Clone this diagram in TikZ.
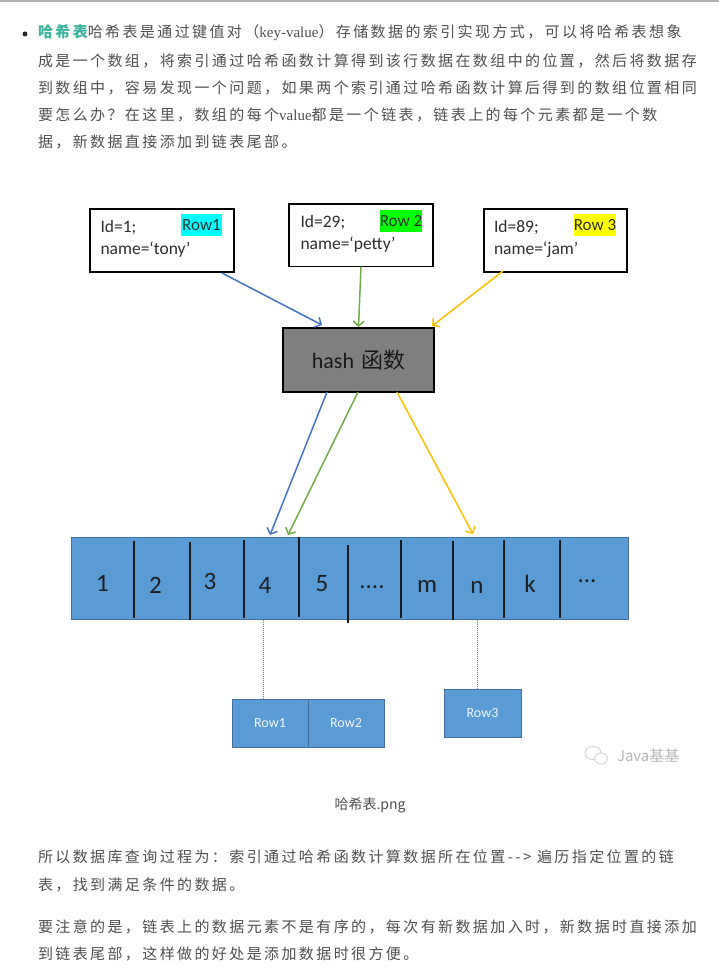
\documentclass[tikz,border=0pt]{standalone}
\usepackage{fontspec}
\setmainfont{Noto Sans CJK SC}
\newfontfamily\cjkfont[LetterSpace=16]{Noto Sans CJK SC}
\newfontfamily\plaincjk{Noto Sans CJK SC}
\newfontfamily\calfont{Carlito}
\newfontfamily\latfont{Liberation Serif}
\usetikzlibrary{arrows.meta,calc}
\definecolor{txt}{HTML}{505050}
\definecolor{tealhead}{HTML}{3DB39E}
\definecolor{cellblue}{HTML}{5B9BD5}
\definecolor{cellborder}{HTML}{41719C}
\definecolor{hashgray}{HTML}{7F7F7F}
\definecolor{arrblue}{HTML}{4472C4}
\definecolor{arrgreen}{HTML}{70AD47}
\definecolor{arryellow}{HTML}{FFC000}
\definecolor{hlcyan}{HTML}{00FFFF}
\definecolor{hlgreen}{HTML}{00FF00}
\definecolor{hlyellow}{HTML}{FFFF00}
\begin{document}
\begin{tikzpicture}[x=1pt,y=-1pt,
  every node/.style={inner sep=0pt,outer sep=0pt},
  para/.style={anchor=west,text=txt,font=\cjkfont\fontsize{15}{18}\selectfont},
  recbox/.style={draw=black,line width=1.3pt,fill=white,minimum height=63pt},
  boxtext/.style={anchor=west,text=black!82,font=\calfont\fontsize{17.5}{20}\selectfont},
  hltag/.style={minimum width=41pt,minimum height=22pt,text=black!82,font=\calfont\fontsize{17}{20}\selectfont},
  hashbox/.style={draw=black,line width=1.3pt,fill=hashgray,minimum width=151pt,minimum height=64pt,text=black!90,font=\fontsize{22}{26}\selectfont},
  cellbox/.style={draw=cellborder,line width=0.8pt,fill=cellblue},
  rowbox/.style={draw=cellborder,line width=0.8pt,fill=cellblue,minimum width=76pt,minimum height=48pt,text=white!92!cellblue,font=\calfont\fontsize{14}{16}\selectfont},
  celllabel/.style={anchor=base,text=black!88,font=\calfont\fontsize{25}{28}\selectfont},
  divider/.style={line width=2.4pt,black!90},
  conn/.style={line width=1.5pt,-{Straight Barb[length=5pt,width=11pt]}},
  dotline/.style={gray,line width=0.8pt,dash pattern=on 1pt off 1pt}
]
\useasboundingbox (0,0) rectangle (719,971);
\fill[white] (0,0) rectangle (719,971);
\fill[gray!60] (0,0) rectangle (719,2);

% ---- top paragraph ----
\node[circle,fill=black!85,minimum size=5pt] (bul) at (25,34) {};
\node[para] (p1) at (38,33) {{\bfseries\color{tealhead}哈希表}哈希表是通过键值对（{\latfont key-value}）存储数据的索引实现方式，可以将哈希表想象};
\node[para] (p2) at (38,61) {成是一个数组，将索引通过哈希函数计算得到该行数据在数组中的位置，然后将数据存};
\node[para] (p3) at (38,88) {到数组中，容易发现一个问题，如果两个索引通过哈希函数计算后得到的数组位置相同};
\node[para] (p4) at (38,115) {要怎么办？在这里，数组的每个{\latfont value}都是一个链表，链表上的每个元素都是一个数};
\node[para] (p5) at (38,142) {据，新数据直接添加到链表尾部。};

% ---- record boxes ----
\node[recbox,minimum width=144pt] (box1) at (162,240.5) {};
\node[recbox,minimum width=144pt,minimum height=62.7pt] (box2) at (361,235.3) {};
\node[recbox,minimum width=143pt] (box3) at (555.5,240.5) {};

\node[hltag,fill=hlcyan] (tag1) at (201.5,225) {Row1};
\node[hltag,fill=hlgreen] (tag2) at (401,221) {Row 2};
\node[hltag,fill=hlyellow] (tag3) at (595,225) {Row 3};

\node[boxtext] (id1) at (100.5,228) {Id=1;};
\node[boxtext] (nm1) at (100.5,250) {name=‘tony’};
\node[boxtext] (id2) at (300.5,223) {Id=29;};
\node[boxtext] (nm2) at (300.5,245) {name=‘petty’};
\node[boxtext] (id3) at (494,228) {Id=89;};
\node[boxtext] (nm3) at (494,250) {name=‘jam’};

% ---- hash box ----
\node[hashbox] (hash) at (358.5,360) {\calfont hash\hspace{7pt}\plaincjk 函数};

% ---- array ----
\node[cellbox,minimum width=557.5pt,minimum height=82pt] (array) at (349.75,578) {};
\foreach \x/\a/\b in {134/541/618,190/542/620,244/540/618,299/537/617,348/545/623,401/540/618,453/541/620,504/540/618,560/540/618}
  \draw[divider] (\x,\a) -- (\x,\b);
\node[celllabel] (c1) at (102.5,591) {1};
\node[celllabel] (c2) at (155.5,593) {2};
\node[celllabel] (c3) at (210,589) {3};
\node[celllabel] (c4) at (265,593) {4};
\node[celllabel] (c5) at (322,591) {5};
\node[celllabel] (c6) at (372,588) {....};
\node[celllabel] (c7) at (427,592) {m};
\node[celllabel] (c8) at (477,593) {n};
\node[celllabel] (c9) at (530,592) {k};
\node[celllabel] (c10) at (587,582) {...};

% ---- arrows ----
\draw[conn,arrblue] ([xshift=-12pt,yshift=-1pt]box1.south east) -- ([xshift=-36.5pt,yshift=3pt]hash.north);
\draw[conn,arrgreen] (box2.south) -- ([yshift=1pt]hash.north);
\draw[conn,arryellow] ([xshift=19pt,yshift=1pt]box3.south west) -- ([xshift=-2pt,yshift=2pt]hash.north east);
\draw[conn,arrblue] ([xshift=-31.5pt]hash.south) -- ([xshift=199pt,yshift=2pt]array.north west);
\draw[conn,arrgreen] ([xshift=-0.5pt]hash.south) -- ([xshift=217pt,yshift=2pt]array.north west);
\draw[conn,arryellow] ([xshift=38.5pt]hash.south) -- ([xshift=402pt,yshift=3pt]array.north west);

% ---- linked lists ----
\node[rowbox] (r1) at (270,723) {Row1};
\node[rowbox] (r2) at (346,723) {Row2};
\node[rowbox,minimum width=77pt] (r3) at (482.5,713) {Row3};
\coordinate (d1) at (263,619.5);
\coordinate (d2) at (477,619.5);
\draw[dotline] (d1) -- (d1 |- r1.north);
\draw[dotline] (d2) -- (d2 |- r3.north);

% ---- watermark ----
\draw[gray!35,line width=0.9pt] (593,753) ellipse (8pt and 6.5pt);
\filldraw[gray!35,fill=white,line width=0.9pt] (601,758.5) ellipse (6.5pt and 5.5pt);
\node[anchor=west,text=gray!55,font=\fontsize{15}{18}\selectfont] (wm) at (617,756) {Java基基};

% ---- caption ----
\node[text=txt,font=\plaincjk\fontsize{14}{16}\selectfont] (cap) at (370,805) {哈希表.png};

% ---- bottom paragraphs ----
\node[para] (q1) at (38,857) {所以数据库查询过程为：索引通过哈希函数计算数据所在位置-{}-> 遍历指定位置的链};
\node[para] (q2) at (38,885) {表，找到满足条件的数据。};
\node[para] (q3) at (38,927) {要注意的是，链表上的数据元素不是有序的，每次有新数据加入时，新数据时直接添加};
\node[para] (q4) at (38,954) {到链表尾部，这样做的好处是添加数据时很方便。};
\end{tikzpicture}
\end{document}
